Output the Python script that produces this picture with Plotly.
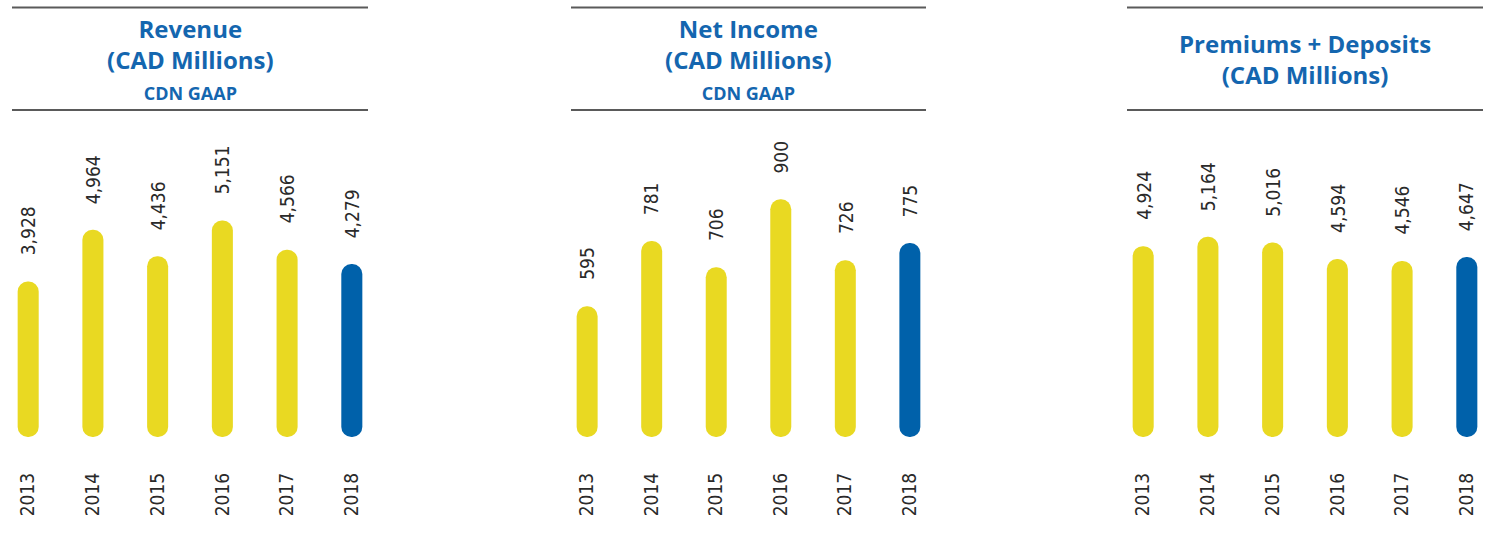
import plotly.graph_objects as go

# ---- data ----
years = ["2013", "2014", "2015", "2016", "2017", "2018"]
revenue = [3928, 4964, 4436, 5151, 4566, 4279]
net_income = [595, 781, 706, 900, 726, 775]
premiums_deposits = [4924, 5164, 5016, 4594, 4546, 4647]

titles = [
    "Revenue<br>(CAD Millions)<br><span style='font-size:18px'>CDN GAAP</span>",
    "Net Income<br>(CAD Millions)<br><span style='font-size:18px'>CDN GAAP</span>",
    "Premiums + Deposits<br>(CAD Millions)",
]

# visual scale of each panel: bar floor and ceiling values
y_scales = [(1030, 7160), (252, 1126), (300, 8159)]

W, H = 1490, 542
YELLOW = "#E9D922"
BLUE = "#0061AA"
TITLE_BLUE = "#1466AF"
TEXT = "#2a2a2a"
RULE = "#5a5a5a"
NUM_FONT = "DejaVu Sans Condensed, Roboto, sans-serif"
NUM_SIZE = 19
TITLE_FONT = "Open Sans, Lato, sans-serif"

# panel horizontal extents in pixels
panels_px = [(12, 368), (571, 926), (1127, 1483)]
top_px, floor_px = 120, 426.5     # ceiling / bar floor
FOOT_PX = 10.5                    # rounded foot below the bar floor
bottom_px = floor_px + FOOT_PX
BAR_W = 0.325                     # bar width in category units

fig = go.Figure()
series = [revenue, net_income, premiums_deposits]
colors = [YELLOW] * 5 + [BLUE]
idx = list(range(len(years)))


def to_paper(ypx):
    return (H - ypx) / H


for i, (vals, (x0, x1), (base, ceil)) in enumerate(zip(series, panels_px, y_scales)):
    n = "" if i == 0 else str(i + 1)
    xa, ya = "x" + n, "y" + n
    units_per_px = (ceil - base) / (floor_px - top_px)
    floor = base - FOOT_PX * units_per_px
    # pill-shaped bars, rounded at both ends
    fig.add_trace(go.Bar(
        x=idx, y=[v - floor for v in vals], base=floor,
        width=BAR_W, marker=dict(color=colors, cornerradius="50%", line=dict(width=0)),
        xaxis=xa, yaxis=ya, hoverinfo="skip", showlegend=False,
    ))
    # value labels
    for k, v in zip(idx, vals):
        fig.add_annotation(
            x=k, y=v, xref=xa, yref=ya, text=f"{v:,}", showarrow=False,
            textangle=-90, yanchor="bottom", xanchor="center", yshift=24,
            font=dict(family=NUM_FONT, size=NUM_SIZE, color=TEXT),
        )
    # panel title and rules
    fig.add_annotation(
        x=0.5, xref=xa + " domain", y=to_paper(58.5), yref="paper",
        text=titles[i], showarrow=False, yanchor="middle", xanchor="center",
        font=dict(family=TITLE_FONT, size=24, color=TITLE_BLUE, weight=700),
    )
    for ypx in (7.5, 110):
        fig.add_shape(type="line", xref=xa + " domain", yref="paper",
                      x0=0, x1=1, y0=to_paper(ypx), y1=to_paper(ypx),
                      line=dict(color=RULE, width=2))
    fig.layout["xaxis" + n] = dict(
        type="linear", domain=[x0 / W, x1 / W], range=[-0.25, 5.25], anchor=ya,
        tickmode="array", tickvals=idx, ticktext=years,
        showgrid=False, zeroline=False, showline=False, ticks="",
        tickangle=-90, ticklabelstandoff=31,
        tickfont=dict(family=NUM_FONT, size=NUM_SIZE, color=TEXT), fixedrange=True,
    )
    fig.layout["yaxis" + n] = dict(
        domain=[to_paper(bottom_px), to_paper(top_px)], range=[floor, ceil],
        anchor=xa, visible=False, fixedrange=True,
    )

fig.update_layout(
    width=W, height=H, margin=dict(l=0, r=0, t=0, b=0),
    paper_bgcolor="white", plot_bgcolor="white", barmode="overlay",
)

fig.write_html("out.html")
